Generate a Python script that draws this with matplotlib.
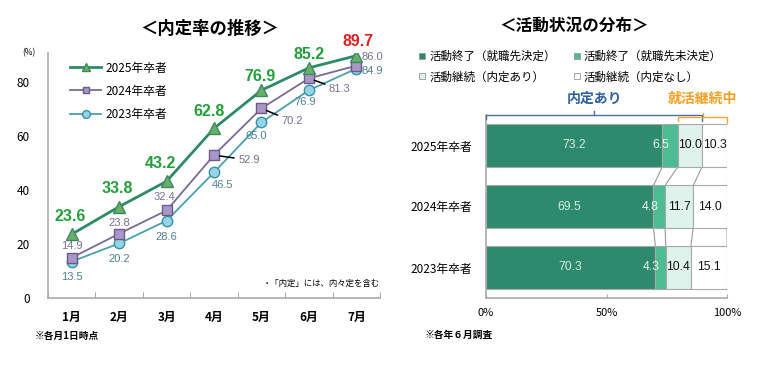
import matplotlib
matplotlib.use("Agg")
import matplotlib.pyplot as plt
from matplotlib.lines import Line2D
import numpy as np

plt.rcParams['font.family'] = ['Noto Sans CJK JP', 'DejaVu Sans']
plt.rcParams['axes.unicode_minus'] = False

# ---- 内定率の推移 ----
months = ['1月', '2月', '3月', '4月', '5月', '6月', '7月']
rate_2025 = [23.6, 33.8, 43.2, 62.8, 76.9, 85.2, 89.7]
rate_2024 = [14.9, 23.8, 32.4, 52.9, 70.2, 81.3, 86.0]
rate_2023 = [13.5, 20.2, 28.6, 46.5, 65.0, 76.9, 84.9]

# ---- 活動状況の分布 ----
years = ['2023年卒者', '2024年卒者', '2025年卒者']
done_decided = [70.3, 69.5, 73.2]
done_undecided = [4.3, 4.8, 6.5]
cont_offer = [10.4, 11.7, 10.0]
cont_none = [15.1, 14.0, 10.3]
seg_names = ['活動終了（就職先決定）', '活動終了（就職先未決定）',
             '活動継続（内定あり）', '活動継続（内定なし）']

# label offsets in pixels (dx, dy)
off_2025 = [(-2, 18), (-2, 18), (-6, 18), (-5, 17), (-1, 14), (0, 13), (2, 14)]
off_2024 = [(0, 12), (0, 11), (-2, 13), (35, -5), (31, -13), (31, -11), (16, 9)]
off_2023 = [(0, -15), (0, -16), (0, -16), (8, -13), (-5, -14), (-4, -12), (16, -2)]
leader_2024 = [False, False, False, True, True, True, False]

C25, C24, C23 = '#2e8b66', '#7b6a96', '#4aa0b0'
NUM = ['Liberation Sans', 'DejaVu Sans']

fig = plt.figure(figsize=(7.8, 3.72), dpi=100)

# ================= left chart =================
ax = fig.add_axes([48 / 780, 1 - 298 / 372, 332 / 780, 245 / 372])
x = np.arange(len(months))
ax.plot(x, rate_2025, color=C25, lw=2, marker='^', ms=8.5,
        mfc='#6aae6e', mec='#3c8a5c', mew=1, label='2025年卒者', zorder=5)
ax.plot(x, rate_2024, color=C24, lw=1.3, marker='s', ms=6.5,
        mfc='#a898c8', mec='#6d5a8a', mew=1, label='2024年卒者', zorder=4)
ax.plot(x, rate_2023, color=C23, lw=1.3, marker='o', ms=7.5,
        mfc='#94d4e4', mec='#3a90a8', mew=1, label='2023年卒者', zorder=3)

ax.set_xlim(-0.5, 6.5)
ax.set_ylim(0, 90.7)
ax.set_yticks([0, 20, 40, 60, 80])
ax.set_xticks(x)
ax.set_xticklabels(months, fontweight='bold', fontsize=8.5)
ax.set_xticks(np.arange(-0.5, 7, 1), minor=True)
ax.tick_params(axis='x', which='major', length=0, pad=9)
ax.tick_params(axis='x', which='minor', direction='in', length=4, color='#999999')
ax.tick_params(axis='y', length=0, pad=13, labelsize=8.5)
for s in ['top', 'right']:
    ax.spines[s].set_visible(False)
for s in ['left', 'bottom']:
    ax.spines[s].set_color('#aaaaaa')
    ax.spines[s].set_linewidth(1.2)

for i, v in enumerate(rate_2025):
    col = '#e02020' if i == len(rate_2025) - 1 else '#22a03a'
    ax.annotate(f'{v:.1f}', (i, v), xytext=off_2025[i], textcoords='offset pixels',
                ha='center', va='center', fontsize=11.5, fontweight='bold',
                color=col, family=NUM, zorder=6)
for i, v in enumerate(rate_2024):
    ap = dict(arrowstyle='-', color='black', lw=1.1, shrinkA=1, shrinkB=4) if leader_2024[i] else None
    ax.annotate(f'{v:.1f}', (i, v), xytext=off_2024[i], textcoords='offset pixels',
                ha='center', va='center', fontsize=8, color='#7a6f8f',
                family=NUM, arrowprops=ap, zorder=6)
for i, v in enumerate(rate_2023):
    ax.annotate(f'{v:.1f}', (i, v), xytext=off_2023[i], textcoords='offset pixels',
                ha='center', va='center', fontsize=8, color='#4f7f90',
                family=NUM, zorder=6)

leg = ax.legend(loc='upper left', bbox_to_anchor=(0.065, 0.965), frameon=False,
                fontsize=8.5, handlelength=2.7, handletextpad=0.3,
                labelspacing=0.85, borderpad=0, borderaxespad=0, markerscale=0.75)

fig.text(22 / 780, 1 - 53 / 372, '(%)', fontsize=6, ha='left', va='center')
fig.text(380 / 780, 1 - 283 / 372, '・「内定」には、内々定を含む', fontsize=6,
         ha='right', va='center')
fig.text(35 / 780, 1 - 336 / 372, '※各月1日時点', fontsize=7, fontweight='bold',
         ha='left', va='center')
fig.text(210 / 780, 1 - 29 / 372, '＜内定率の推移＞', fontsize=12.5, fontweight='bold',
         ha='center', va='center')

# ================= right chart =================
bx = fig.add_axes([486 / 780, 1 - 298 / 372, 241 / 780, 183 / 372])
segs = [done_decided, done_undecided, cont_offer, cont_none]
seg_colors = ['#2e8a6c', '#4dbb94', '#dff2ec', '#ffffff']
txt_colors = ['#d4eee4', '#e8f8f0', '#111111', '#111111']
txt_shift = [0, -9, 0, 0]   # pixels, narrow segment label nudged left
y = np.arange(len(years))
h = 0.69
left = np.zeros(len(years))
bounds = []
for k, vals in enumerate(segs):
    vals = np.array(vals)
    bx.barh(y, vals, left=left, height=h, color=seg_colors[k],
            edgecolor='#a8a8a8', linewidth=0.8, zorder=2)
    for j, v in enumerate(vals):
        bx.annotate(f'{v:.1f}', (left[j] + v / 2, y[j]), xytext=(txt_shift[k], 0),
                    textcoords='offset pixels', ha='center', va='center',
                    fontsize=8.7, color=txt_colors[k], family=NUM, zorder=4)
    left = left + vals
    bounds.append(left.copy())

# series lines between bars
for b in bounds:
    for j in range(len(years) - 1):
        bx.plot([b[j + 1], b[j]], [y[j + 1] - h / 2, y[j] + h / 2],
                color='#999999', lw=0.8, zorder=1)

bx.set_xlim(0, 100)
bx.set_ylim(-0.5, 2.5)
bx.set_yticks(y)
bx.set_yticklabels(years, fontsize=8.5)
bx.set_xticks([0, 50, 100])
bx.set_xticklabels(['0%', '50%', '100%'], fontsize=8)
bx.tick_params(axis='y', length=0, pad=10)
bx.tick_params(axis='x', direction='in', length=3, color='#aaaaaa', pad=7)
for s in ['top', 'right']:
    bx.spines[s].set_visible(False)
for s in ['left', 'bottom']:
    bx.spines[s].set_color('#aaaaaa')
    bx.spines[s].set_linewidth(1.2)

# brackets
top = y[-1]
offer_end = done_decided[-1] + done_undecided[-1] + cont_offer[-1]
cont_start = done_decided[-1] + done_undecided[-1]
by = top + 0.5
mid = offer_end / 2
bx.plot([0, 0, offer_end, offer_end], [by - 0.07, by, by, by - 0.1],
        color='#4a6fa0', lw=1, clip_on=False, zorder=5)
bx.plot([mid, mid], [by, by + 0.06], color='#4a6fa0', lw=1, clip_on=False)
bx.text(mid, top + 0.77, '内定あり', ha='center', va='center', fontsize=10,
        fontweight='bold', color='#2f5f9f')
oy = top + 0.47
omid = (cont_start + 100) / 2
bx.plot([cont_start, cont_start, 100, 100], [oy - 0.07, oy, oy, oy - 0.1],
        color='#f0a830', lw=1, clip_on=False, zorder=5)
bx.plot([omid, omid], [oy, oy + 0.06], color='#f0a830', lw=1, clip_on=False)
bx.text(omid, top + 0.77, '就活継続中', ha='center', va='center', fontsize=10,
        fontweight='bold', color='#f5a020')

handles = [Line2D([], [], marker='s', ls='', ms=5, mfc=seg_colors[k], mec='#999999',
                  mew=0.6) for k in range(4)]
order = [0, 2, 1, 3]
fig.legend([handles[k] for k in order], [seg_names[k] for k in order],
           loc='upper left', bbox_to_anchor=(419 / 780, 1 - 50 / 372), ncol=2,
           frameon=False, fontsize=8.3, handlelength=0.6, handletextpad=0.3,
           columnspacing=1.5, labelspacing=0.65, borderpad=0, borderaxespad=0)

fig.text(574 / 780, 1 - 26 / 372, '＜活動状況の分布＞', fontsize=12, fontweight='bold',
         ha='center', va='center')
fig.text(425 / 780, 1 - 335 / 372, '※各年６月調査', fontsize=7, fontweight='bold',
         ha='left', va='center')

fig.savefig('out.png', dpi=100)
